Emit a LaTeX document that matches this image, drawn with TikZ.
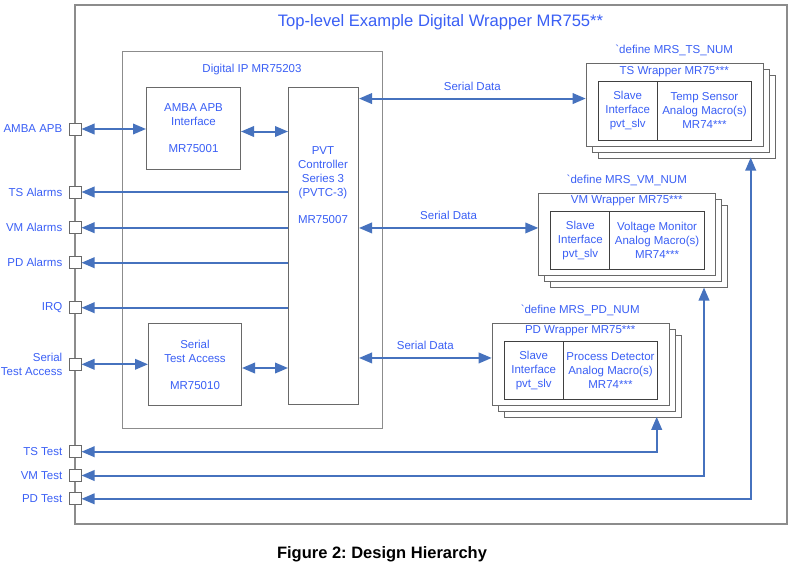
\documentclass[tikz,border=0pt]{standalone}
\usepackage{fontspec}
\setmainfont{Liberation Sans}
\usetikzlibrary{arrows.meta,positioning}
\frenchspacing

\definecolor{txtblue}{RGB}{58,95,245}
\definecolor{arrblue}{RGB}{70,114,190}
\definecolor{outgray}{RGB}{140,140,140}
\definecolor{boxgray}{RGB}{105,105,105}

\tikzset{
  box/.style={draw=boxgray, line width=1pt, fill=white, inner sep=0pt, anchor=north west},
  txt/.style={text=txtblue, font=\fontsize{11.5}{14}\selectfont, align=center, inner sep=0pt},
  pinbox/.style={draw=boxgray, fill=white, line width=1pt, minimum size=12pt, inner sep=0pt},
  arr/.style={draw=arrblue, line width=2pt, -{Triangle[length=13pt,width=10.5pt]}},
  dbl/.style={draw=arrblue, line width=2pt, {Triangle[length=13pt,width=10.5pt]}-{Triangle[length=13pt,width=10.5pt]}},
}

\begin{document}
\begin{tikzpicture}[x=1pt,y=-1pt]
  \useasboundingbox (0,0) rectangle (791,566);
  % top level wrapper
  \node[box, draw=outgray, line width=1.6pt, minimum width=712pt, minimum height=519pt] (top) at (74,4) {};
  \node[txt, font=\fontsize{16.6}{20}\selectfont] (top-ttl) at (440.5,22) {Top-level Example Digital Wrapper MR755**};

  % digital IP
  \node[box, draw=outgray, line width=1.2pt, minimum width=260pt, minimum height=377pt] (dip) at (122,51) {};
  \node[txt] (dip-ttl) at (252,70) {Digital IP MR75203};
  \node[box, txt, minimum width=94pt, minimum height=82pt] (amba) at (146,87) {AMBA APB\\Interface\\[13pt]MR75001};
  \node[box, minimum width=70pt, minimum height=317pt] (pvt) at (288,87) {};
  \node[txt] (pvt-txt) at (323,185.5) {PVT\\Controller\\Series 3\\(PVTC-3)\\[13pt]MR75007};
  \node[box, txt, minimum width=93pt, minimum height=82pt] (sta) at (148,323) {Serial\\Test Access\\[13pt]MR75010};

  % pins
  \foreach \p/\y/\t in {pamba/129/AMBA APB, pts/192/TS Alarms, pvm/227.7/VM Alarms, ppd/262.7/PD Alarms,
                        pirq/307.7/IRQ, psta/364.3/Serial\\Test Access, ptt/451.7/TS Test, pvt-t/475.5/VM Test, ppt/498.8/PD Test}{
    \node[pinbox] (\p) at (75,\y) {};
    \node[txt, align=right, left=6pt of \p] (\p-l) {\t};
  }

  % wrappers
  \foreach \w/\x/\y/\nm/\an in {ts/585.7/63.3/TS/Temp Sensor, vm/538.3/192.7/VM/Voltage Monitor, pd/491.7/322.7/PD/Process Detector}{
    \node[box, minimum width=177pt, minimum height=82.5pt] (\w3) at (\x+12,\y+12) {};
    \node[box, minimum width=177pt, minimum height=82.5pt] (\w2) at (\x+6,\y+6) {};
    \node[box, minimum width=177pt, minimum height=82.5pt] (\w) at (\x,\y) {};
    \node[txt] (\w-def) at (\x+88.5,\y-12.5) {\textasciigrave define MRS\_\nm\_NUM};
    \node[txt] (\w-ttl) at (\x+88.5,\y+8.5) {\nm\ Wrapper MR75***};
    \node[box, txt, draw=black!75, minimum width=59pt, minimum height=58.6pt] (\w-slv) at (\x+12,\y+17.8) {Slave\\Interface\\pvt\_slv};
    \node[box, txt, draw=black!75, minimum width=94.5pt, minimum height=58.6pt] (\w-mac) at (\x+71,\y+17.8) {\an\\Analog Macro(s)\\MR74***};
  }

  % connectors inside the digital IP
  \draw[dbl] (pamba.east) -- (pamba -| amba.west);
  \draw[dbl] ([yshift=-3pt]amba.east) -- ([yshift=-3pt]amba.east -| pvt.west);
  \foreach \p in {pts,pvm,ppd,pirq}
    \draw[arr] (\p -| pvt.west) -- (\p.east);
  \draw[dbl] (psta.east) -- (psta -| sta.west);
  \draw[dbl] ([yshift=-3.5pt]sta.east) -- ([yshift=-3.5pt]sta.east -| pvt.west);

  % serial data
  \foreach \w in {ts,vm,pd}
    \draw[dbl] ([yshift=6.5pt]\w.west -| pvt.east) -- node[txt, above=7pt] (\w-sd) {Serial Data} ([yshift=6.5pt]\w.west);

  % test lines
  \coordinate (pdin) at (656.7,416.8);
  \coordinate (vmin) at (704,287.5);
  \coordinate (tsin) at (750.7,157.5);
  \draw[dbl] (ptt.east) -- (ptt -| pdin) -- (pdin);
  \draw[dbl] (pvt-t.east) -- (pvt-t -| vmin) -- (vmin);
  \draw[dbl] (ppt.east) -- (ppt -| tsin) -- (tsin);

  \node[font=\bfseries\fontsize{16.5}{20}\selectfont] (cap) at (382,554) {Figure 2: Design Hierarchy};
\end{tikzpicture}
\end{document}
